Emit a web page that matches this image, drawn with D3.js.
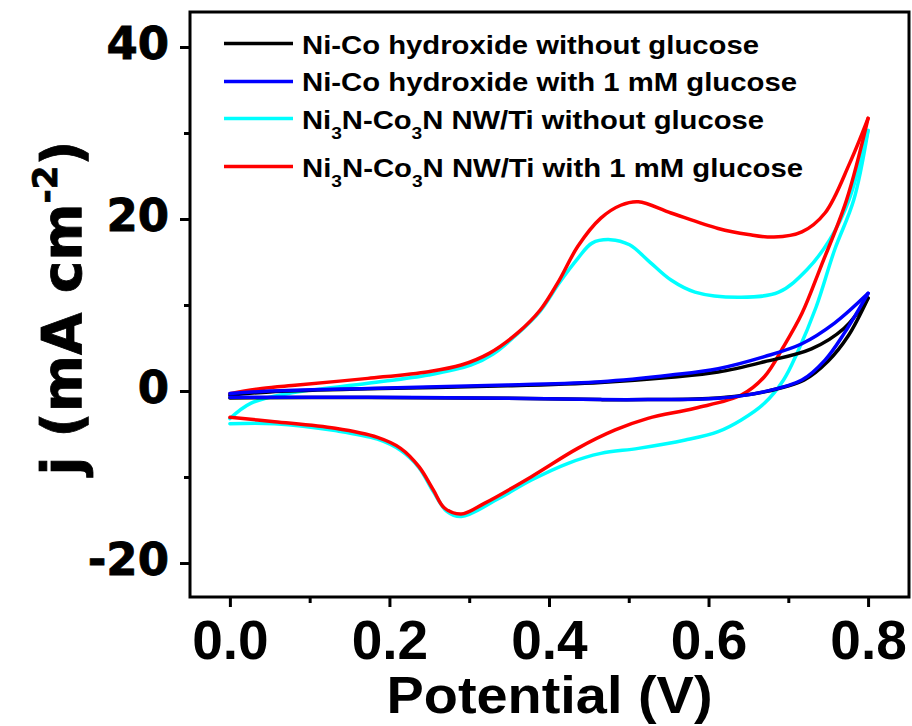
<!DOCTYPE html>
<html>
<head>
<meta charset="utf-8">
<script src="https://cdn.jsdelivr.net/npm/d3@7/dist/d3.min.js"></script>
<style>
  html, body { margin: 0; padding: 0; background: #fff; }
  svg { display: block; }
</style>
</head>
<body>
<svg id="chart" width="912" height="726"></svg>
<script>
// ---------------- DATA ----------------
const xTicks = [0.0, 0.2, 0.4, 0.6, 0.8];
const xMinorTicks = [0.1, 0.3, 0.5, 0.7];
const yTicks = [-20, 0, 20, 40];
const yMinorTicks = [-10, 10, 30];
const xTickLabels = ["0.0", "0.2", "0.4", "0.6", "0.8"];
const yTickLabels = ["-20", "0", "20", "40"];

// Ni-Co hydroxide without glucose (black)
const blackFwdV = [0, 0.05, 0.173, 0.348, 0.465, 0.553, 0.612, 0.67, 0.729, 0.77, 0.8];
const blackFwdJ = [-0.5, -0.1, 0.25, 0.6, 1.0, 1.6, 2.2, 3.4, 4.9, 7.3, 10.8];
const blackRevV = [0.8, 0.775, 0.75, 0.72, 0.67, 0.612, 0.524, 0.465, 0.348, 0.173, 0];
const blackRevJ = [10.8, 6.4, 3.5, 1.3, -0.1, -0.8, -1.0, -1.0, -0.85, -0.75, -0.8];

// Ni-Co hydroxide with 1 mM glucose (blue)
const blueFwdV = [0, 0.05, 0.173, 0.348, 0.465, 0.553, 0.612, 0.67, 0.717, 0.758, 0.8];
const blueFwdJ = [-0.3, 0.0, 0.3, 0.7, 1.08, 1.86, 2.6, 4.0, 5.5, 7.9, 11.36];
const blueRevV = [0.8, 0.77, 0.746, 0.717, 0.67, 0.612, 0.524, 0.465, 0.348, 0.173, 0];
const blueRevJ = [11.36, 6.7, 3.6, 1.28, -0.08, -0.85, -1.0, -1.0, -0.85, -0.73, -0.73];

// Ni3N-Co3N NW/Ti without glucose (cyan)
const cyanFwdV = [0, 0.026, 0.073, 0.173, 0.249, 0.302, 0.33, 0.36, 0.389, 0.413, 0.436, 0.454, 0.477, 0.501, 0.524, 0.553, 0.583, 0.641, 0.688, 0.723, 0.752, 0.776, 0.8];
const cyanFwdJ = [-3.2, -1.43, -0.3, 0.9, 1.86, 3.0, 4.3, 6.6, 9.3, 12.6, 15.4, 17.2, 17.6, 17.0, 15.2, 12.9, 11.5, 10.9, 11.5, 14.07, 17.6, 22.2, 30.3];
const cyanRevV = [0.8, 0.782, 0.758, 0.735, 0.711, 0.694, 0.67, 0.641, 0.612, 0.571, 0.512, 0.465, 0.424, 0.378, 0.337, 0.29, 0.272, 0.255, 0.237, 0.214, 0.185, 0.132, 0.056, 0];
const cyanRevJ = [30.3, 22.2, 16.4, 9.8, 4.4, 1.28, -1.43, -3.37, -4.73, -5.7, -6.67, -7.25, -8.4, -10.35, -12.5, -14.6, -14.0, -11.7, -8.9, -6.9, -5.6, -4.6, -3.8, -3.8];

// Ni3N-Co3N NW/Ti with 1 mM glucose (red)
const redFwdV = [0, 0.04, 0.085, 0.173, 0.249, 0.29, 0.325, 0.36, 0.389, 0.413, 0.436, 0.465, 0.49, 0.512, 0.553, 0.612, 0.65, 0.682, 0.717, 0.746, 0.777, 0.8];
const redFwdJ = [-0.3, 0.3, 0.7, 1.47, 2.25, 3.02, 4.38, 6.7, 9.42, 12.9, 16.8, 20.1, 21.6, 22.0, 20.7, 18.9, 18.2, 17.9, 18.5, 20.7, 26.5, 31.7];
const redRevV = [0.8, 0.773, 0.741, 0.717, 0.694, 0.67, 0.641, 0.583, 0.524, 0.483, 0.436, 0.378, 0.319, 0.29, 0.269, 0.255, 0.237, 0.214, 0.185, 0.132, 0.056, 0];
const redRevJ = [31.7, 22.2, 14.5, 9.0, 5.15, 1.66, -0.47, -2.0, -3.18, -4.53, -6.67, -9.96, -13.06, -14.3, -13.6, -11.5, -8.8, -6.67, -5.4, -4.34, -3.57, -3.06];

const seriesNames = [
  "Ni-Co hydroxide without glucose",
  "Ni-Co hydroxide with 1 mM glucose",
  "Ni3N-Co3N NW/Ti without glucose",
  "Ni3N-Co3N NW/Ti with 1 mM glucose"
];
const seriesColors = ["#000000", "#0000ff", "#00ffff", "#ff0000"];

// ---------------- LAYOUT ----------------
const plot = { left: 190, right: 909, top: 12, bottom: 597 };
const svg = d3.select("#chart");
svg.append("rect").attr("width", 912).attr("height", 726).attr("fill", "#fff");

const x = d3.scaleLinear().domain([-0.05, 0.8513]).range([plot.left, plot.right]);
const y = d3.scaleLinear().domain([-23.95, 44.07]).range([plot.bottom, plot.top]);

const zip = (a, b) => a.map((v, i) => [v, b[i]]);
const line = d3.line().x(d => x(d[0])).y(d => y(d[1])).curve(d3.curveCatmullRom.alpha(0.5));

svg.append("clipPath").attr("id", "clip").append("rect")
  .attr("x", plot.left).attr("y", plot.top)
  .attr("width", plot.right - plot.left).attr("height", plot.bottom - plot.top);

const curves = svg.append("g").attr("clip-path", "url(#clip)");
const drawOrder = [
  { c: seriesColors[2], parts: [[cyanFwdV, cyanFwdJ], [cyanRevV, cyanRevJ]] },
  { c: seriesColors[3], parts: [[redFwdV, redFwdJ], [redRevV, redRevJ]] },
  { c: seriesColors[0], parts: [[blackFwdV, blackFwdJ], [blackRevV, blackRevJ]] },
  { c: seriesColors[1], parts: [[blueFwdV, blueFwdJ], [blueRevV, blueRevJ]] }
];
drawOrder.forEach(s => {
  s.parts.forEach(p => {
    curves.append("path")
      .attr("d", line(zip(p[0], p[1])))
      .attr("fill", "none")
      .attr("stroke", s.c)
      .attr("stroke-width", 3.5)
      .attr("stroke-linejoin", "round")
      .attr("stroke-linecap", "round");
  });
});

// ---------------- AXES ----------------
const xAxis = d3.axisBottom(x).tickValues(xTicks).tickSize(10).tickFormat((d, i) => xTickLabels[i]).tickPadding(12);
const gx = svg.append("g").attr("transform", `translate(0,${plot.bottom})`).call(xAxis);
gx.select(".domain").remove();
gx.selectAll(".tick line").attr("stroke", "#000").attr("stroke-width", 3);
gx.selectAll(".tick text")
  .attr("font-family", "'Liberation Sans', Arial, sans-serif")
  .attr("font-weight", "bold").attr("font-size", 55).attr("fill", "#000")
  .attr("dy", null).attr("y", 62);

const xMinor = d3.axisBottom(x).tickValues(xMinorTicks).tickSize(6).tickFormat("");
const gxm = svg.append("g").attr("transform", `translate(0,${plot.bottom})`).call(xMinor);
gxm.select(".domain").remove();
gxm.selectAll(".tick line").attr("stroke", "#000").attr("stroke-width", 3);

const yAxis = d3.axisLeft(y).tickValues(yTicks).tickSize(10).tickFormat((d, i) => yTickLabels[i]).tickPadding(10);
const gy = svg.append("g").attr("transform", `translate(${plot.left},0)`).call(yAxis);
gy.select(".domain").remove();
gy.selectAll(".tick line").attr("stroke", "#000").attr("stroke-width", 3);
gy.selectAll(".tick text")
  .attr("font-family", "'DejaVu Sans', sans-serif")
  .attr("font-weight", "bold").attr("font-size", 45).attr("fill", "#000")
  .attr("stroke", "#000").attr("stroke-width", 0.8)
  .attr("dy", null).attr("y", 11).attr("x", -21);

const yMinor = d3.axisLeft(y).tickValues(yMinorTicks).tickSize(6).tickFormat("");
const gym = svg.append("g").attr("transform", `translate(${plot.left},0)`).call(yMinor);
gym.select(".domain").remove();
gym.selectAll(".tick line").attr("stroke", "#000").attr("stroke-width", 3);

// frame
svg.append("rect")
  .attr("x", plot.left).attr("y", plot.top)
  .attr("width", plot.right - plot.left).attr("height", plot.bottom - plot.top)
  .attr("fill", "none").attr("stroke", "#000").attr("stroke-width", 3);

// axis titles
svg.append("text")
  .attr("x", (plot.left + plot.right) / 2).attr("y", 713)
  .attr("text-anchor", "middle")
  .attr("font-family", "'Liberation Sans', Arial, sans-serif")
  .attr("font-weight", "bold").attr("font-size", 52).attr("fill", "#000")
  .attr("textLength", 326).attr("lengthAdjust", "spacingAndGlyphs")
  .text("Potential (V)");

const yt = svg.append("text")
  .attr("transform", "translate(81,308) rotate(-90)")
  .attr("text-anchor", "middle")
  .attr("font-family", "'DejaVu Sans', sans-serif")
  .attr("font-weight", "bold").attr("font-size", 55).attr("fill", "#000")
  .attr("stroke", "#000").attr("stroke-width", 0.8);
yt.append("tspan").text("j (mA cm");
yt.append("tspan").attr("font-size", 34).attr("dy", -24).text("-2");
yt.append("tspan").attr("dy", 24).text(")");

// ---------------- LEGEND ----------------
const legendRows = [
  { lineY: 43.5, base: 53.5, end: 759, parts: [["Ni-Co hydroxide without glucose", false]] },
  { lineY: 81.5, base: 91, end: 797, parts: [["Ni-Co hydroxide with 1 mM glucose", false]] },
  { lineY: 118.5, base: 128.5, end: 764, parts: [["Ni", false], ["3", true], ["N-Co", false], ["3", true], ["N NW/Ti without glucose", false]] },
  { lineY: 166.5, base: 177, end: 803, parts: [["Ni", false], ["3", true], ["N-Co", false], ["3", true], ["N NW/Ti with 1 mM glucose", false]] }
];
const lg = svg.append("g");
legendRows.forEach((r, i) => {
  lg.append("line")
    .attr("x1", 224).attr("x2", 293).attr("y1", r.lineY).attr("y2", r.lineY)
    .attr("stroke", seriesColors[i]).attr("stroke-width", 3.5);
  const t = lg.append("text")
    .attr("x", 302).attr("y", r.base)
    .attr("font-family", "'Liberation Sans', Arial, sans-serif")
    .attr("font-weight", "bold").attr("font-size", 26).attr("fill", "#000")
    .attr("textLength", r.end - 302).attr("lengthAdjust", "spacingAndGlyphs");
  let prevSub = false;
  r.parts.forEach(([s, sub]) => {
    const ts = t.append("tspan").text(s);
    if (sub && !prevSub) ts.attr("dy", 10).attr("font-size", 17);
    if (!sub && prevSub) ts.attr("dy", -10);
    prevSub = sub;
  });
});
</script>
</body>
</html>
